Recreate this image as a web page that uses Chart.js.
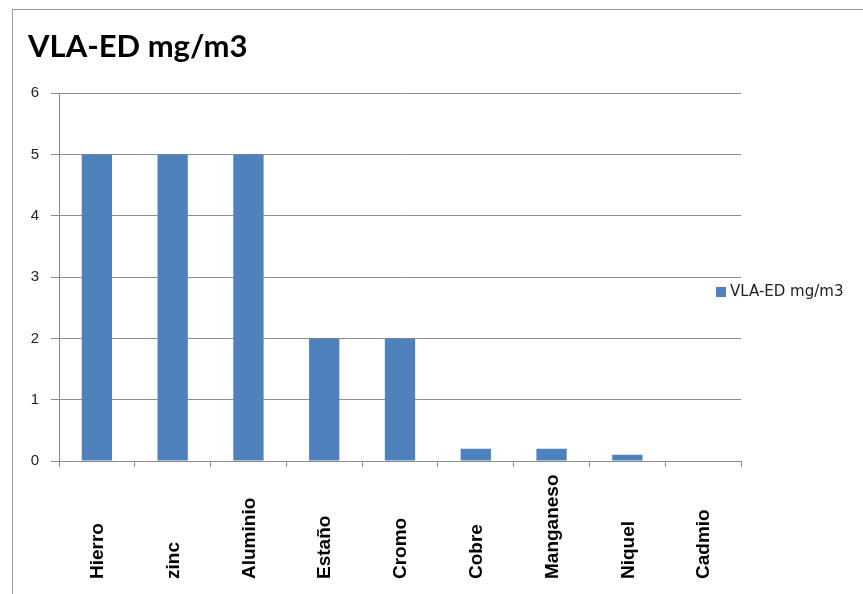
<!DOCTYPE html>
<html>
<head>
<meta charset="utf-8">
<script src="https://cdn.jsdelivr.net/npm/chart.js@4.4.1/dist/chart.umd.min.js"></script>
<style>
  html, body { margin: 0; padding: 0; background: #fff; }
  #wrap { position: relative; width: 863px; height: 594px; }
</style>
</head>
<body>
<div id="wrap"><canvas id="myChart" width="863" height="594"></canvas></div>
<script>
// metals and their VLA-ED limit values
const metales = ['Hierro', 'zinc', 'Aluminio', 'Estaño', 'Cromo', 'Cobre', 'Manganeso', 'Niquel', 'Cadmio'];
const vlaED = [5, 5, 5, 2, 2, 0.2, 0.2, 0.1, 0];
const serieNombre = 'VLA-ED mg/m3';
const yTicks = [0, 1, 2, 3, 4, 5, 6];

const azul = '#4F81BD';
const gris = '#8c8c8c';

// outer frame of the chart
const marco = {
  id: 'marco',
  beforeDraw(chart) {
    const ctx = chart.ctx;
    ctx.save();
    ctx.strokeStyle = '#9a9a9a';
    ctx.lineWidth = 1;
    ctx.strokeRect(12.5, 9.5, 1000, 1000);
    ctx.restore();
  }
};

// vertical category labels, anchored at the bottom
const etiquetas = {
  id: 'etiquetas',
  afterDraw(chart) {
    const ctx = chart.ctx;
    const x = chart.scales.x;
    ctx.save();
    ctx.font = 'bold 19px "Liberation Sans", Arial, sans-serif';
    ctx.fillStyle = '#000';
    ctx.textAlign = 'left';
    ctx.textBaseline = 'middle';
    chart.data.labels.forEach((lbl, i) => {
      ctx.save();
      ctx.translate(x.getPixelForTick(i) + 1, 579);
      ctx.rotate(-Math.PI / 2);
      ctx.fillText(lbl, 0, 0);
      ctx.restore();
    });
    ctx.restore();
  }
};

// legend sitting at the right edge
const leyenda = {
  id: 'leyenda',
  afterDraw(chart) {
    const ctx = chart.ctx;
    const ds = chart.data.datasets[0];
    ctx.save();
    ctx.fillStyle = ds.backgroundColor;
    ctx.fillRect(716, 287, 10, 10);
    ctx.font = '15px "DejaVu Sans", sans-serif';
    ctx.fillStyle = '#222';
    ctx.textBaseline = 'middle';
    ctx.fillText(ds.label, 730, 292);
    ctx.restore();
  }
};

const data = {
  labels: metales,
  datasets: [{
    label: serieNombre,
    data: vlaED,
    backgroundColor: azul,
    borderWidth: 0,
    categoryPercentage: 1,
    barPercentage: 0.4
  }]
};

const config = {
  type: 'bar',
  data: data,
  plugins: [marco, etiquetas, leyenda],
  options: {
    responsive: false,
    animation: false,
    layout: { padding: { left: 28, right: 122, top: 0, bottom: 0 } },
    plugins: {
      legend: { display: false },
      tooltip: { enabled: false },
      title: {
        display: true,
        text: serieNombre,
        align: 'start',
        color: '#000',
        font: { family: 'Lato', weight: 'bold', size: 31 },
        padding: { top: 28, bottom: 28 }
      }
    },
    scales: {
      x: {
        grid: { drawOnChartArea: false, drawTicks: true, tickLength: 6, color: gris, offset: true },
        border: { color: gris, width: 1 },
        ticks: { display: false },
        afterFit: (scale) => { scale.height = 133; }
      },
      y: {
        min: 0,
        max: 6,
        grid: { color: gris, tickLength: 8, lineWidth: 1 },
        border: { color: gris, width: 1 },
        afterBuildTicks: (scale) => { scale.ticks = yTicks.map(v => ({ value: v })); },
        ticks: {
          color: '#222',
          padding: 12,
          font: { family: 'Liberation Sans', size: 15 }
        },
        afterFit: (scale) => { scale.width = 31; }
      }
    }
  }
};

const ctx = document.getElementById('myChart').getContext('2d');
const myChart = new Chart(ctx, config);
</script>
</body>
</html>
